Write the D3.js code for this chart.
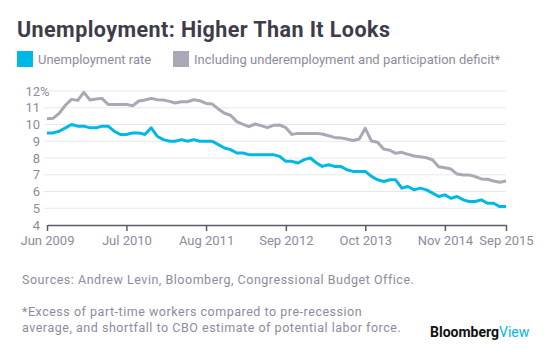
<!DOCTYPE html>
<html><head><meta charset="utf-8">
<script src="https://cdn.jsdelivr.net/npm/d3@7"></script>
<style>
html,body{margin:0;padding:0;background:#fff;}
svg{display:block;font-family:Roboto, "Open Sans", sans-serif;}
</style></head>
<body>
<svg id="chart" width="551" height="357"></svg>
<script>
const startMonth = "2009-06";
const unemploymentRate = [
  9.5, 9.5, 9.6, 9.8, 10.0, 9.9, 9.9,
  9.8, 9.8, 9.9, 9.9, 9.6, 9.4, 9.4, 9.5, 9.5, 9.4, 9.8, 9.3,
  9.1, 9.0, 9.0, 9.1, 9.0, 9.1, 9.0, 9.0, 9.0, 8.8, 8.6, 8.5,
  8.3, 8.3, 8.2, 8.2, 8.2, 8.2, 8.2, 8.1, 7.8, 7.8, 7.7, 7.9,
  8.0, 7.7, 7.5, 7.6, 7.5, 7.5, 7.3, 7.2, 7.2, 7.2, 6.9, 6.7,
  6.6, 6.7, 6.7, 6.2, 6.3, 6.1, 6.2, 6.1, 5.9, 5.7, 5.8, 5.6,
  5.7, 5.5, 5.4, 5.4, 5.5, 5.3, 5.3, 5.1, 5.1
];
const broadRate = [
  10.35, 10.37, 10.67, 11.16, 11.5, 11.44, 11.92,
  11.46, 11.52, 11.56, 11.2, 11.2, 11.2, 11.2, 11.12, 11.4, 11.46, 11.56, 11.48,
  11.46, 11.38, 11.28, 11.36, 11.36, 11.48, 11.42, 11.26, 11.22, 10.93, 10.67, 10.55,
  10.17, 10.01, 9.87, 10.03, 9.93, 9.81, 9.95, 9.97, 9.81, 9.41, 9.47, 9.47,
  9.47, 9.47, 9.43, 9.33, 9.23, 9.2, 9.13, 9.05, 9.13, 9.77, 9.01, 8.94,
  8.53, 8.46, 8.28, 8.34, 8.22, 8.12, 8.08, 8.02, 7.88, 7.48, 7.42, 7.34,
  7.04, 6.99, 6.99, 6.89, 6.75, 6.73, 6.63, 6.55, 6.63
];
const seriesNames = ["Unemployment rate", "Including underemployment and participation deficit*"];
const xTickMonths = ["2009-06", "2010-07", "2011-08", "2012-09", "2013-10", "2014-11", "2015-09"];
const yTicks = [4, 5, 6, 7, 8, 9, 10, 11, 12];

const parse = d3.timeParse("%Y-%m");
const start = parse(startMonth);
const dates = unemploymentRate.map((_, i) => d3.timeMonth.offset(start, i));

const svg = d3.select("#chart");
const BLUE = "#00b8e6", GRAY = "#a9a8b4", TXT = "#8d8b9c", DARK = "#3d3c48";

const x = d3.scaleTime().domain([start, dates[dates.length - 1]]).range([47, 506]);
const y = d3.scaleLinear().domain([4, 12]).range([225, 91]);

// Title
svg.append("text").attr("x", 17).attr("y", 37)
  .attr("font-size", 21.5).attr("font-weight", 700).attr("fill", DARK)
  .attr("letter-spacing", 0.42)
  .text("Unemployment: Higher Than It Looks");

// Legend
const legendX = [17, 173];
[BLUE, GRAY].forEach((c, i) => {
  svg.append("rect").attr("x", legendX[i]).attr("y", 51).attr("width", 16).attr("height", 16).attr("fill", c);
  svg.append("text").attr("x", legendX[i] + 21).attr("y", 64)
    .attr("font-size", 13).attr("fill", TXT).text(seriesNames[i]);
});

// Gridlines
svg.append("g").selectAll("line").data(yTicks.filter(d => d > 4)).join("line")
  .attr("x1", 44).attr("x2", 506)
  .attr("y1", d => y(d)).attr("y2", d => y(d))
  .attr("stroke", "#e8e8ec").attr("stroke-width", 1);

// Y labels
svg.append("g").selectAll("text").data(yTicks).join("text")
  .attr("x", 40).attr("y", d => y(d)).attr("dy", "0.36em")
  .attr("text-anchor", "end").attr("font-size", 13).attr("fill", TXT)
  .text(d => d);
svg.append("text").attr("x", 40).attr("y", y(12)).attr("dy", "0.36em")
  .attr("font-size", 13).attr("fill", TXT).text("%");

// X axis
const xAxis = d3.axisBottom(x)
  .tickValues(xTickMonths.map(parse))
  .tickFormat(d3.timeFormat("%b %Y"))
  .tickSize(6).tickSizeOuter(0).tickPadding(5);
const gx = svg.append("g").attr("transform", `translate(0,${y(4)})`).call(xAxis);
gx.select(".domain").attr("stroke", "#5b5a66").attr("stroke-width", 1.5);
gx.selectAll(".tick line").attr("stroke", "#5b5a66").attr("stroke-width", 1.5);
gx.selectAll(".tick text").attr("fill", TXT).attr("font-size", 13)
  .attr("font-family", "Roboto, sans-serif");

// Lines
const line = vals => d3.line().x((d, i) => x(dates[i])).y(d => y(d))(vals);
svg.append("path").attr("d", line(broadRate)).attr("fill", "none")
  .attr("stroke", GRAY).attr("stroke-width", 3).attr("stroke-linejoin", "round");
svg.append("path").attr("d", line(unemploymentRate)).attr("fill", "none")
  .attr("stroke", BLUE).attr("stroke-width", 3).attr("stroke-linejoin", "round");

// Footer
const foot = [
  ["Sources: Andrew Levin, Bloomberg, Congressional Budget Office.", 284],
  ["*Excess of part-time workers compared to pre-recession", 316],
  ["average, and shortfall to CBO estimate of potential labor force.", 332]
];
svg.append("g").selectAll("text").data(foot).join("text")
  .attr("x", 22).attr("y", d => d[1]).attr("font-size", 12.5)
  .attr("letter-spacing", 0.52).attr("fill", TXT).text(d => d[0]);
const logo = svg.append("text").attr("x", 430).attr("y", 337).attr("font-size", 14).attr("font-weight", 700);
logo.append("tspan").attr("fill", "#111").text("Bloomberg");
logo.append("tspan").attr("fill", BLUE).attr("font-weight", 400).text("View");
</script>
</body></html>
